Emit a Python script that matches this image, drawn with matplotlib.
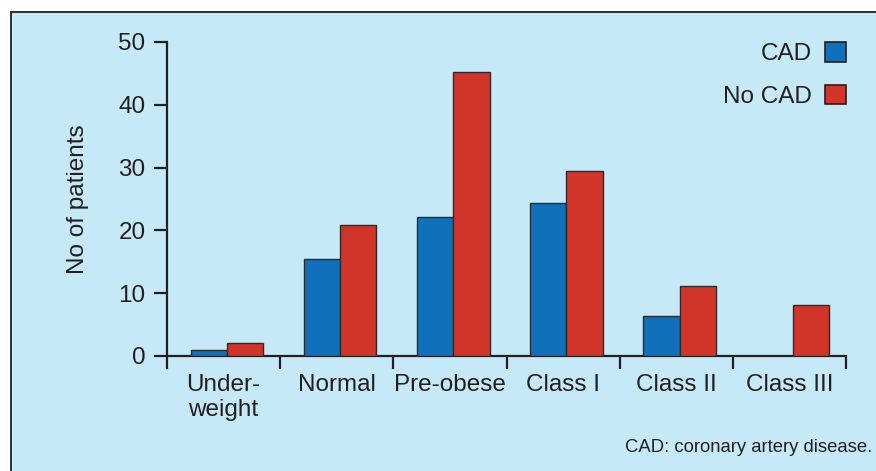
import numpy as np
import matplotlib
matplotlib.use("Agg")
import matplotlib.pyplot as plt
from matplotlib.patches import Rectangle

plt.rcParams['font.family'] = ['Liberation Sans', 'DejaVu Sans']

categories = ["Under-\nweight", "Normal", "Pre-obese", "Class I", "Class II", "Class III"]
cad = [0.9, 15.4, 22.2, 24.4, 6.4, 0]
no_cad = [2.1, 20.9, 45.2, 29.5, 11.1, 8.1]
series_names = ["CAD", "No CAD"]
yticks = [0, 10, 20, 30, 40, 50]

BG = "#C6E9F8"
BLUE = "#1071BA"
RED = "#D13428"
INK = "#231F20"
FS = 17.5

W, H = 876, 471
fig = plt.figure(figsize=(W / 100, H / 100), dpi=100)
fig.patch.set_facecolor("white")

# panel background (only left and top borders are visible)
panel = Rectangle((11 / W, -0.05), 1.1, (H - 12) / H + 0.05, transform=fig.transFigure,
                  facecolor=BG, edgecolor=INK, linewidth=1.3, zorder=0)
fig.patches.append(panel)

left, right = 167 / W, 846 / W
bottom, top = (H - 356) / H, (H - 42) / H
ax = fig.add_axes([left, bottom, right - left, top - bottom])
ax.set_facecolor("none")
ax.set_zorder(2)

x = np.arange(len(categories))
bw = 0.32
ax.bar(x - bw / 2 + 0.03, cad, width=bw, color=BLUE, edgecolor="#2b2b2b", linewidth=1.0,
       label=series_names[0], zorder=3)
ax.bar(x + bw / 2 + 0.03, no_cad, width=bw, color=RED, edgecolor="#2b2b2b", linewidth=1.0,
       label=series_names[1], zorder=3)

ax.set_xlim(-0.5, len(categories) - 0.5)
ax.set_ylim(0, 50)

for s in ["top", "right"]:
    ax.spines[s].set_visible(False)
for s in ["left", "bottom"]:
    ax.spines[s].set_linewidth(1.6)
    ax.spines[s].set_color(INK)

ax.set_yticks(yticks)
ax.tick_params(axis="y", direction="out", length=9.5, width=1.6, color=INK,
               labelsize=FS, labelcolor=INK, pad=6)

ax.set_xticks(np.arange(len(categories) + 1) - 0.5)
ax.set_xticklabels([])
ax.tick_params(axis="x", which="major", direction="out", length=9.5, width=1.6, color=INK)
ax.set_xticks(x, minor=True)
ax.set_xticklabels(categories, minor=True)
ax.tick_params(axis="x", which="minor", length=0, labelsize=FS, labelcolor=INK, pad=13)
for t in ax.get_xticklabels(minor=True):
    t.set_linespacing(1.2)

ax.set_ylabel("No of patients", fontsize=FS, color=INK, labelpad=21)

leg = ax.legend(loc="upper right", bbox_to_anchor=(1.0, 1.0), frameon=False,
                markerfirst=False, fontsize=FS, handlelength=0.86, handleheight=0.86,
                handletextpad=0.55, labelspacing=0.8, borderaxespad=0, borderpad=0,
                alignment="right")
for h in leg.legend_handles:
    h.set_edgecolor(INK)
    h.set_linewidth(1.2)
for t in leg.get_texts():
    t.set_color(INK)

fig.text(872 / W, 1 - 448 / H, "CAD: coronary artery disease.", ha="right", va="center",
         fontsize=13.3, color=INK)

fig.savefig("out.png", dpi=100, facecolor=fig.get_facecolor())
